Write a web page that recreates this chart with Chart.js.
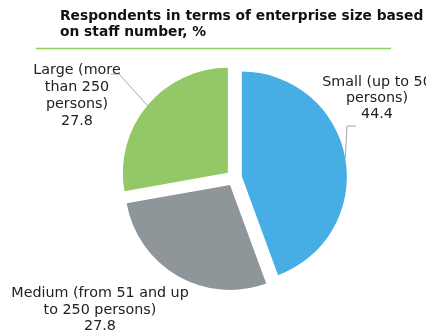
<!DOCTYPE html>
<html>
<head>
<meta charset="utf-8">
<script src="https://cdn.jsdelivr.net/npm/chart.js@4/dist/chart.umd.min.js"></script>
<style>
  html, body { margin: 0; padding: 0; background: #fff; }
  #wrap { width: 426px; height: 331px; position: relative; }
</style>
</head>
<body>
<div id="wrap"><canvas id="c" width="426" height="331"></canvas></div>
<script>
// ---- data ----
const titleLines = ['Respondents in terms of enterprise size based', 'on staff number, %'];
const categories = ['Small (up to 50 persons)', 'Medium (from 51 and up to 250 persons)', 'Large (more than 250 persons)'];
const categoryLines = [
  ['Small (up to 50', 'persons)'],
  ['Medium (from 51 and up', 'to 250 persons)'],
  ['Large (more', 'than 250', 'persons)']
];
const values = [44.4, 27.8, 27.8];

// ---- styles / layout ----
const colors = ['#46AEE5', '#8E969A', '#93C866'];
const SLICE_GAP = 8; // px each slice is pulled out along its mid-angle
// label block: center x, first baseline y, line height; leader: elbow & end points (null = none)
const labelLayout = [
  { x: 377, y: 86, lh: 16, leader: [[347, 126], [356, 126]] },
  { x: 100, y: 297, lh: 16.7, leader: null },
  { x: 77, y: 74, lh: 17, leader: [[119, 74], [111, 74]] }
];

const titlePlugin = {
  id: 'titleRule',
  afterDraw(chart) {
    const ctx = chart.ctx;
    ctx.save();
    ctx.fillStyle = '#111';
    ctx.font = 'bold 13.8px "DejaVu Sans"';
    ctx.textAlign = 'left';
    ctx.textBaseline = 'alphabetic';
    ctx.fillText(titleLines[0], 60, 19.5);
    ctx.fillText(titleLines[1], 60, 36);
    ctx.strokeStyle = '#92CF5E';
    ctx.lineWidth = 1.5;
    ctx.beginPath();
    ctx.moveTo(36, 48.5);
    ctx.lineTo(391, 48.5);
    ctx.stroke();
    ctx.restore();
  }
};

// draw each arc element translated outward (exploded pie) without radius growth
const explodePlugin = {
  id: 'explode',
  beforeDatasetDraw(chart, args) {
    const ctx = chart.ctx;
    const meta = args.meta;
    meta.data.forEach(arc => {
      const p = arc.getProps(['startAngle', 'endAngle'], true);
      const mid = (p.startAngle + p.endAngle) / 2;
      ctx.save();
      ctx.translate(Math.cos(mid) * SLICE_GAP, Math.sin(mid) * SLICE_GAP);
      arc.draw(ctx, chart.chartArea);
      ctx.restore();
    });
    return false;
  }
};

const labelPlugin = {
  id: 'sliceLabels',
  afterDatasetsDraw(chart) {
    const ctx = chart.ctx;
    const meta = chart.getDatasetMeta(0);
    ctx.save();
    meta.data.forEach((arc, i) => {
      const p = arc.getProps(['x', 'y', 'startAngle', 'endAngle', 'outerRadius'], true);
      const mid = (p.startAngle + p.endAngle) / 2;
      const ax = p.x + Math.cos(mid) * (p.outerRadius + SLICE_GAP);
      const ay = p.y + Math.sin(mid) * (p.outerRadius + SLICE_GAP);
      const L = labelLayout[i];
      if (L.leader) {
        ctx.strokeStyle = '#A6A6A6';
        ctx.lineWidth = 1;
        ctx.beginPath();
        ctx.moveTo(ax, ay);
        L.leader.forEach(pt => ctx.lineTo(pt[0], pt[1]));
        ctx.stroke();
      }
      ctx.fillStyle = '#222';
      ctx.font = '14.3px "DejaVu Sans"';
      ctx.textAlign = 'center';
      ctx.textBaseline = 'alphabetic';
      const lines = categoryLines[i].concat([values[i].toFixed(1)]);
      lines.forEach((t, k) => ctx.fillText(t, L.x, L.y + k * L.lh));
    });
    ctx.restore();
  }
};

new Chart(document.getElementById('c'), {
  type: 'pie',
  data: {
    labels: categories,
    datasets: [{
      data: values,
      backgroundColor: colors,
      borderWidth: 0,
      offset: 0
    }]
  },
  options: {
    responsive: false,
    animation: false,
    radius: 105,
    layout: { padding: { left: 42, top: 25, right: 0, bottom: 0 } },
    plugins: {
      legend: { display: false },
      tooltip: { enabled: false },
      title: { display: false }
    }
  },
  plugins: [titlePlugin, explodePlugin, labelPlugin]
});
</script>
</body>
</html>
